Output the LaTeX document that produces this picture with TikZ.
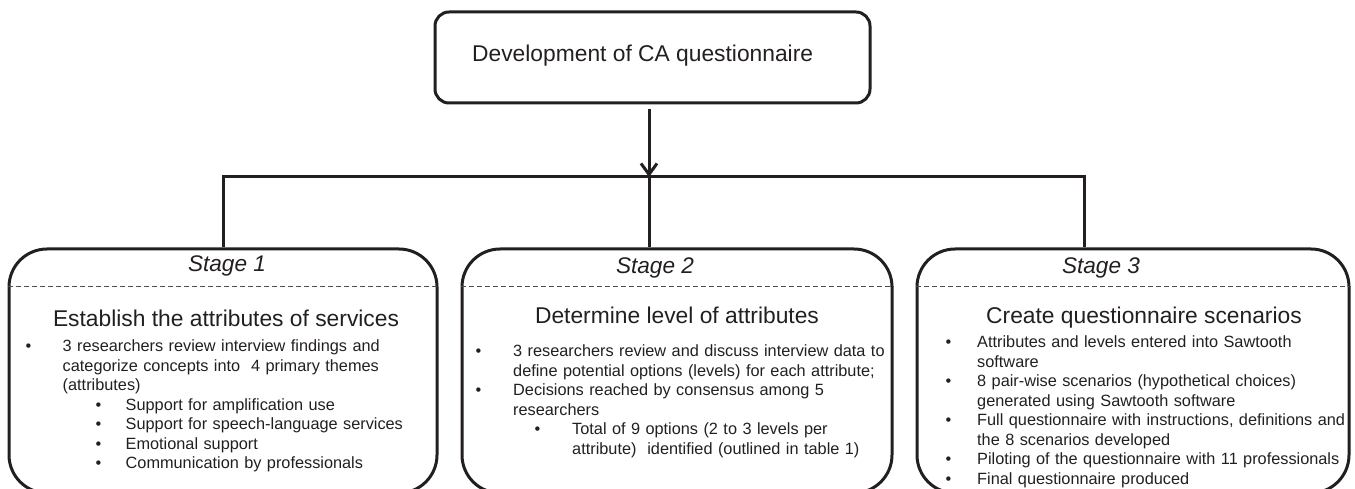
\documentclass[tikz,border=0pt]{standalone}
\usepackage{fontspec}
\setmainfont{Liberation Sans}
\usepackage{enumitem}
\usetikzlibrary{arrows.meta}
\definecolor{ink}{RGB}{35,31,32}
\setlist[itemize]{label=\textbullet, itemsep=0pt, topsep=0pt, parsep=0pt, partopsep=0pt, align=left, labelwidth=8pt, labelindent=0pt, labelsep=*}

\begin{document}
\begin{tikzpicture}[x = 1pt, y = -1pt, color = ink]
	\tikzstyle{topStyle} = [draw, line width = 3pt, rounded corners = 14pt, minimum width = 435pt, minimum height = 91pt, inner sep = 0pt]
	\tikzstyle{stageStyle} = [draw, line width = 3pt, rounded corners = 38pt, minimum height = 244pt, inner sep = 0pt]
	\tikzstyle{lineStyle} = [line width = 3pt]
	\tikzstyle{dashStyle} = [line width = 1.4pt, black!70, dash pattern = on 5pt off 3pt]
	\tikzstyle{headStyle} = [anchor = base, inner sep = 0pt, font = \fontsize{22.8}{27}\selectfont]
	\tikzstyle{labelStyle} = [anchor = base, inner sep = 0pt, font = \fontsize{22.6}{27}\selectfont\itshape]
	\tikzstyle{bodyStyle} = [anchor = north west, inner sep = 0pt, text width = 425pt, align = left, font = \fontsize{16.3}{19.5}\selectfont]
	\useasboundingbox (0,0) rectangle (1355,489);
	% boxes
	\node[topStyle] (dev) at (652.5, 57.5) {};
	\node[headStyle, anchor = base west] (devText) at (472, 62) {Development of CA questionnaire};
	\node[stageStyle, minimum width = 428pt] (stageA) at (223, 371) {};
	\node[stageStyle, minimum width = 430pt] (stageB) at (677, 371) {};
	\node[stageStyle, minimum width = 432pt] (stageC) at (1133, 371) {};
	% connectors
	\coordinate (bar) at (649, 177);
	\draw[lineStyle, -{Straight Barb[length = 11pt, width = 16pt]}, shorten <= 5pt] (dev.south -| bar) -- (bar);
	\draw[lineStyle] (bar) -- (stageB.north -| bar);
	\draw[lineStyle] (stageA.north) |- (bar) -| ([xshift = -49pt]stageC.north);
	% stage titles
	\draw[dashStyle] ([yshift = -39pt]stageA.north west) -- ([yshift = -39pt]stageA.north east);
	\draw[dashStyle] ([yshift = -39pt]stageB.north west) -- ([yshift = -39pt]stageB.north east);
	\draw[dashStyle] ([yshift = -39pt]stageC.north west) -- ([yshift = -39pt]stageC.north east);
	\node[labelStyle] (labA) at (227, 271) {Stage 1};
	\node[labelStyle] (labB) at (655, 273) {Stage 2};
	\node[labelStyle] (labC) at (1101, 273) {Stage 3};
	\node[headStyle] (headA) at (226, 326) {Establish the attributes of services};
	\node[headStyle] (headB) at (677, 323) {Determine level of attributes};
	\node[headStyle] (headC) at (1144, 323) {Create questionnaire scenarios};
	% stage contents
	\node[bodyStyle] (bodyA) at (25.5, 332) {%
		\begin{itemize}[leftmargin = 37pt]
		\item 3 researchers review interview findings and\\ categorize concepts into~ 4 primary themes\\ (attributes)
			\begin{itemize}[labelindent = 33pt, leftmargin = 63pt]
			\item Support for amplification use
			\item Support for speech-language services
			\item Emotional support
			\item Communication by professionals
			\end{itemize}
		\end{itemize}};
	\node[bodyStyle] (bodyB) at (475.5, 337) {%
		\begin{itemize}[leftmargin = 37.5pt]
		\item 3 researchers review and discuss interview data to\\ define potential options (levels) for each attribute;
		\item Decisions reached by consensus among 5\\ researchers
			\begin{itemize}[labelindent = 21.5pt, leftmargin = 59pt]
			\item Total of 9 options (2 to 3 levels per\\ attribute)~ identified (outlined in table 1)
			\end{itemize}
		\end{itemize}};
	\node[bodyStyle] (bodyC) at (945.5, 328) {%
		\begin{itemize}[leftmargin = 31.5pt]
		\item Attributes and levels entered into Sawtooth\\ software
		\item 8 pair-wise scenarios (hypothetical choices)\\ generated using Sawtooth software
		\item Full questionnaire with instructions, definitions and\\ the 8 scenarios developed
		\item Piloting of the questionnaire with 11 professionals
		\item Final questionnaire produced
		\end{itemize}};
\end{tikzpicture}
\end{document}
